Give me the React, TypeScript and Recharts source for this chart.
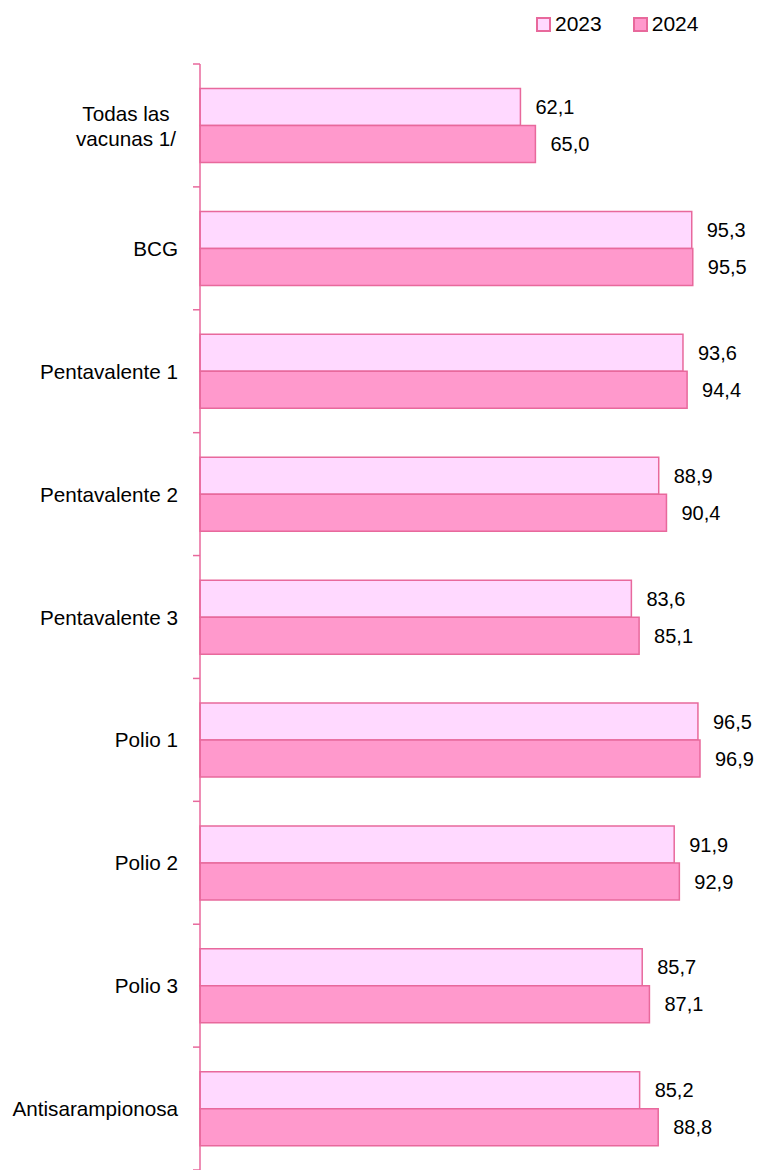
import { Bar, BarChart, LabelList, XAxis, YAxis } from "recharts"

const categories = [
  "Todas las vacunas 1/",
  "BCG",
  "Pentavalente 1",
  "Pentavalente 2",
  "Pentavalente 3",
  "Polio 1",
  "Polio 2",
  "Polio 3",
  "Antisarampionosa",
]
const values2023 = [62.1, 95.3, 93.6, 88.9, 83.6, 96.5, 91.9, 85.7, 85.2]
const values2024 = [65.0, 95.5, 94.4, 90.4, 85.1, 96.9, 92.9, 87.1, 88.8]
const seriesNames = ["2023", "2024"]

const data = categories.map((name, i) => ({ name, y2023: values2023[i], y2024: values2024[i] }))

const W = 758
const H = 1170
const TOP = 64
const BOTTOM = 0
const BAND = (H - TOP - BOTTOM) / categories.length
const PINK = "#E8699C"
const FILLS = ["#FFD9FF", "#FF99CC"]
const FONT = "'Liberation Sans', Arial, sans-serif"

const fmt = (v: any) => Number(v).toFixed(1).replace(".", ",")

const CategoryTick = (props: any) => {
  const { x, y, payload, index } = props
  const label: string = payload.value
  const lines = label === "Todas las vacunas 1/" ? ["Todas las", "vacunas 1/"] : [label]
  return (
    <g>
      <line x1={x - 7} x2={x} y1={y - BAND / 2} y2={y - BAND / 2} stroke={PINK} strokeWidth={1.5} />
      {index === categories.length - 1 && (
        <line x1={x - 7} x2={x} y1={y + BAND / 2} y2={y + BAND / 2} stroke={PINK} strokeWidth={1.5} />
      )}
      {lines.length === 1 ? (
        <text x={x - 22} y={y} textAnchor="end" dominantBaseline="central" fontSize={20.7} fill="#000" fontFamily={FONT}>
          {label}
        </text>
      ) : (
        <text x={x - 74} y={y} textAnchor="middle" fontSize={20.7} fill="#000" fontFamily={FONT}>
          <tspan x={x - 74} dy={-4}>{lines[0]}</tspan>
          <tspan x={x - 74} dy={25}>{lines[1]}</tspan>
        </text>
      )}
    </g>
  )
}

const LegendBox = () => (
  <div style={{ position: "absolute", left: 536, top: 12, display: "flex", fontFamily: FONT, fontSize: 21, color: "#000" }}>
    {seriesNames.map((label, i) => (
      <div key={label} style={{ display: "flex", alignItems: "center", marginRight: 31 }}>
        <span style={{ width: 11, height: 11, background: FILLS[i], border: `2px solid ${PINK}`, marginRight: 4 }} />
        <span>{label}</span>
      </div>
    ))}
  </div>
)

const App = () => {
  return (
    <div style={{ position: "absolute", left: 0, top: 0, width: W, height: H, background: "#fff" }}>
      <BarChart
        width={W}
        height={H}
        data={data}
        layout="vertical"
        margin={{ top: TOP, right: 42, bottom: BOTTOM, left: 0 }}
        barGap={0}
        barCategoryGap="20%"
      >
        <XAxis type="number" domain={[0, 100]} hide />
        <YAxis
          type="category"
          dataKey="name"
          width={200}
          axisLine={{ stroke: PINK, strokeWidth: 1.5 }}
          tickLine={false}
          tickSize={0}
          tickMargin={0}
          tick={<CategoryTick />}
          interval={0}
        />
        <Bar dataKey="y2023" name={seriesNames[0]} fill={FILLS[0]} stroke={PINK} strokeWidth={1.5} isAnimationActive={false}>
          <LabelList dataKey="y2023" position="right" offset={15} formatter={fmt} fill="#000" fontSize={20} fontFamily={FONT} />
        </Bar>
        <Bar dataKey="y2024" name={seriesNames[1]} fill={FILLS[1]} stroke={PINK} strokeWidth={1.5} isAnimationActive={false}>
          <LabelList dataKey="y2024" position="right" offset={15} formatter={fmt} fill="#000" fontSize={20} fontFamily={FONT} />
        </Bar>
      </BarChart>
      <LegendBox />
    </div>
  )
}

export default App
